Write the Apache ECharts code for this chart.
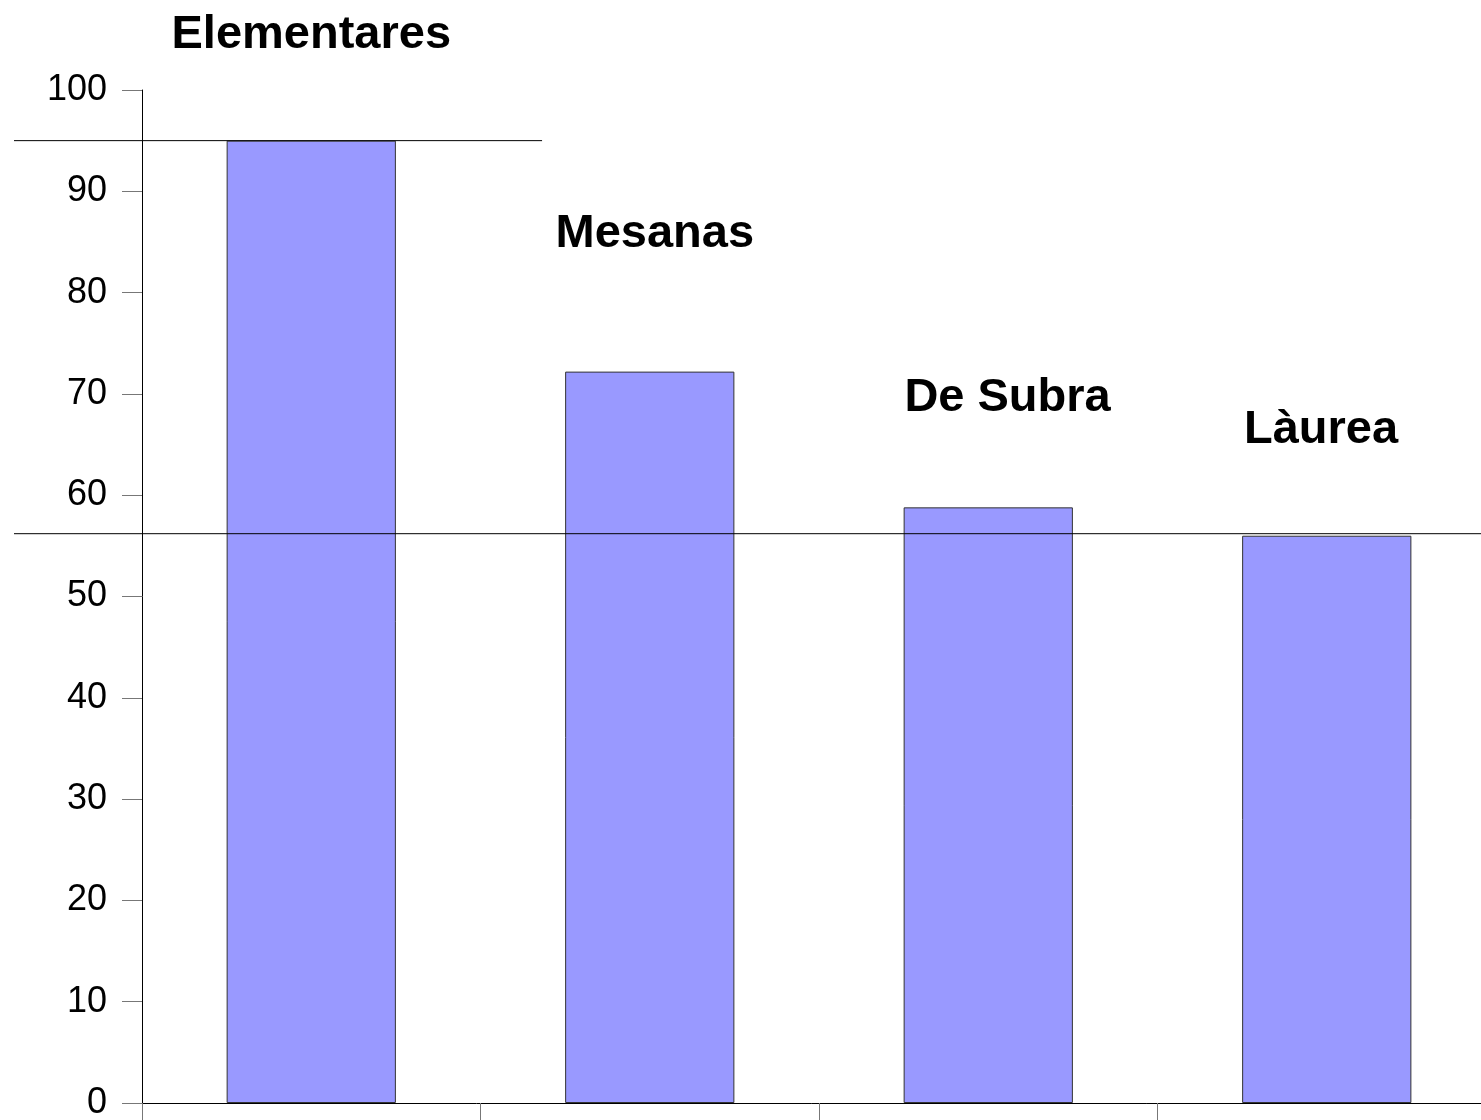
<!DOCTYPE html>
<html lang="en">
<head>
    <meta charset="UTF-8">
    <title>Elementares</title>
    <script src="https://cdn.jsdelivr.net/npm/echarts@6/dist/echarts.min.js"></script>
    <style>
        html, body {margin: 0; padding: 0; background: #fff;}
        #container {width: 1481px; height: 1120px;}
    </style>
</head>
<body>
<div id="container"></div>
<script type="text/javascript">
// categories and bar values (percent)
var categories = ['Elementares', 'Mesanas', 'De Subra', 'Làurea'];
var values = [95, 72.2, 58.8, 56.0];
// where the category names sit (x in category units, y in axis units)
var labelX = [0.5, 1.515, 2.557, 3.483];
var labelY = [105.45, 85.75, 69.55, 66.45];
// the two horizontal reference lines (x in category units, reaching left of the axis)
var refHigh = [[-0.378, 95], [1.182, 95]];
var refLow = [[-0.378, 56.2], [4, 56.2]];
var yTicks = [0, 100, 10];

var dom = document.getElementById("container");
var myChart = echarts.init(dom, null, {renderer: 'canvas'});
var option = null;

var fontName = 'Liberation Sans, Arial, sans-serif';

var labelData = [];
for (var i = 0; i < categories.length; i++) {
    labelData.push({name: categories[i], value: [labelX[i], labelY[i]]});
}

var refStyle = {color: '#000', width: 1};

option = {
    animation: false,
    backgroundColor: '#fff',
    textStyle: {fontFamily: fontName},
    grid: [
        {
            left: 142,
            top: 90,
            width: 1354,
            height: 1013,
            outerBoundsMode: 'none',
            containLabel: false
        },
        {
            // same scale as the main grid, but starting further left
            left: 14,
            top: 90,
            width: 1482,
            height: 1013,
            outerBoundsMode: 'none',
            containLabel: false
        }
    ],
    xAxis: [
        {
            type: 'category',
            gridIndex: 0,
            data: categories,
            boundaryGap: true,
            axisLine: {lineStyle: {color: '#000', width: 1}},
            axisTick: {show: true, length: 20, lineStyle: {color: '#777'}},
            axisLabel: {show: false},
            splitLine: {show: false}
        },
        {
            type: 'value',
            gridIndex: 0,
            min: 0,
            max: 4,
            show: false
        },
        {
            type: 'value',
            gridIndex: 1,
            min: -0.378,
            max: 4,
            show: false
        }
    ],
    yAxis: [
        {
            type: 'value',
            gridIndex: 0,
            min: yTicks[0],
            max: yTicks[1],
            interval: yTicks[2],
            axisLine: {show: true, lineStyle: {color: '#000', width: 1}},
            axisTick: {show: true, length: 20, lineStyle: {color: '#777'}},
            axisLabel: {
                margin: 35,
                fontSize: 36,
                color: '#000',
                fontFamily: fontName
            },
            splitLine: {show: false}
        },
        {
            type: 'value',
            gridIndex: 1,
            min: yTicks[0],
            max: yTicks[1],
            show: false
        }
    ],
    series: [
        {
            name: 'valori',
            type: 'bar',
            barWidth: '50%',
            data: values,
            itemStyle: {
                color: '#9999ff',
                borderColor: '#333',
                borderWidth: 1
            }
        },
        {
            name: 'refHigh',
            type: 'line',
            xAxisIndex: 2,
            yAxisIndex: 1,
            clip: false,
            symbol: 'none',
            data: refHigh,
            lineStyle: refStyle,
            z: 5
        },
        {
            name: 'refLow',
            type: 'line',
            xAxisIndex: 2,
            yAxisIndex: 1,
            clip: false,
            symbol: 'none',
            data: refLow,
            lineStyle: refStyle,
            z: 5
        },
        {
            name: 'nomi',
            type: 'scatter',
            xAxisIndex: 1,
            clip: false,
            symbolSize: 0,
            data: labelData,
            itemStyle: {opacity: 1},
            label: {
                show: true,
                position: [0, 0],
                align: 'center',
                verticalAlign: 'middle',
                formatter: '{b}',
                fontSize: 47,
                fontWeight: 'bold',
                color: '#000',
                fontFamily: fontName
            }
        }
    ]
};

if (option && typeof option === "object") {
    myChart.setOption(option, true);
}
</script>
</body>
</html>
